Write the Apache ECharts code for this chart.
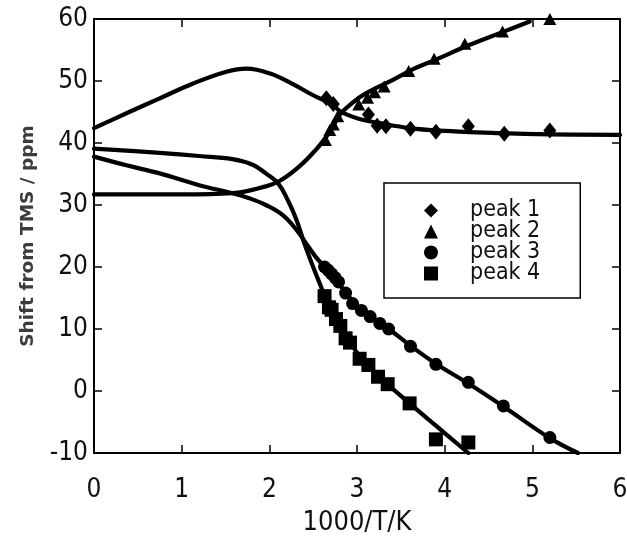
<!DOCTYPE html>
<html>
<head>
<meta charset="utf-8">
<script src="https://cdn.jsdelivr.net/npm/echarts@6/dist/echarts.min.js"></script>
<style>
html,body{margin:0;padding:0;background:#fff;}
#chart{width:627px;height:536px;}
</style>
</head>
<body>
<div id="chart"></div>
<script>
// ---- data ----
const xTicks = [0, 1, 2, 3, 4, 5, 6];
const yTicks = [-10, 0, 10, 20, 30, 40, 50, 60];
const seriesNames = ['peak 1', 'peak 2', 'peak 3', 'peak 4'];

const peak1X = [2.65, 2.73, 3.13, 3.23, 3.33, 3.61, 3.90, 4.27, 4.68, 5.20];
const peak1Y = [47.2, 46.3, 44.6, 42.8, 42.7, 42.3, 41.8, 42.7, 41.5, 42.0];

const peak2X = [2.64, 2.69, 2.73, 2.78, 3.02, 3.12, 3.20, 3.31, 3.59, 3.88, 4.23, 4.66, 5.20];
const peak2Y = [40.5, 42.1, 43.0, 44.3, 46.2, 47.3, 48.2, 49.1, 51.6, 53.6, 56.0, 58.0, 60.0];

const peak3X = [2.63, 2.67, 2.71, 2.75, 2.79, 2.87, 2.95, 3.05, 3.15, 3.26, 3.36, 3.61, 3.90, 4.27, 4.67, 5.20];
const peak3Y = [20.0, 19.5, 18.9, 18.3, 17.6, 15.8, 14.1, 13.0, 12.0, 10.9, 10.0, 7.2, 4.3, 1.4, -2.4, -7.5];

const peak4X = [2.63, 2.68, 2.71, 2.76, 2.81, 2.87, 2.92, 3.03, 3.13, 3.24, 3.35, 3.60, 3.90, 4.27];
const peak4Y = [15.3, 13.5, 13.1, 11.6, 10.5, 8.5, 7.8, 5.2, 4.2, 2.3, 1.1, -2.0, -7.8, -8.3];

// fitted curves
const fit1X = [0, 0.37, 0.75, 1.13, 1.51, 1.74, 2.01, 2.28, 2.50, 2.73, 2.80, 2.90, 3.05, 3.26, 3.60, 3.94, 4.63, 5.20, 6.0];
const fit1Y = [42.4, 44.8, 47.2, 49.6, 51.5, 52.0, 51.2, 49.4, 47.7, 46.1, 45.2, 44.5, 43.8, 43.2, 42.4, 42.0, 41.6, 41.4, 41.3];

const fit2X = [0, 1.0, 1.58, 1.96, 2.12, 2.34, 2.53, 2.65, 2.73, 2.80, 2.95, 3.10, 3.41, 3.64, 3.89, 4.28, 4.68, 4.97];
const fit2Y = [31.7, 31.7, 31.9, 33.0, 33.9, 36.2, 38.9, 41.0, 42.7, 44.5, 46.5, 48.0, 50.2, 51.9, 53.4, 55.8, 58.0, 59.6];

const fit3X = [0, 0.37, 0.75, 1.20, 1.58, 1.77, 1.96, 2.15, 2.31, 2.42, 2.52, 2.63, 2.75, 2.87, 3.0, 3.2, 3.4, 3.61, 3.90, 4.27, 4.67, 5.2, 5.52];
const fit3Y = [37.8, 36.4, 35.1, 33.2, 31.9, 31.1, 30.0, 28.4, 26.0, 23.8, 21.8, 20.0, 18.1, 15.9, 13.8, 11.6, 9.6, 7.3, 4.4, 1.2, -2.5, -7.6, -10];

const fit4X = [0, 0.75, 1.20, 1.58, 1.81, 1.96, 2.10, 2.21, 2.31, 2.40, 2.50, 2.59, 2.63, 2.76, 2.90, 3.03, 3.24, 3.60, 3.90, 4.27];
const fit4Y = [39.1, 38.4, 37.9, 37.4, 36.5, 35.1, 33.5, 30.8, 27.6, 23.8, 20.0, 16.8, 15.3, 11.8, 8.5, 5.6, 2.5, -2.0, -5.6, -10];

const xName = '1000/T/K';
const yName = 'Shift from TMS / ppm';

// ---- chart ----
const zip = (a, b) => a.map((v, i) => [v, b[i]]);
const FONT = "'Liberation Sans Narrow', 'DejaVu Sans Condensed', sans-serif";
const chart = echarts.init(document.getElementById('chart'), null, {renderer: 'canvas'});

const xMin = xTicks[0], xMax = xTicks[xTicks.length - 1];
const yMin = yTicks[0], yMax = yTicks[yTicks.length - 1];
const xInt = xTicks[1] - xTicks[0], yInt = yTicks[1] - yTicks[0];

const axisLine = {show: true, onZero: false, lineStyle: {color: '#000', width: 2}};
const axisTick = {show: true, inside: true, length: 8, lineStyle: {color: '#000', width: 1.5}};

function curve(x, y) {
  return {
    type: 'line', data: zip(x, y), smooth: 0.4,
    symbol: 'none', lineStyle: {color: '#000', width: 4.2, cap: 'round', join: 'round'}, z: 2, silent: true
  };
}
function marks(name, x, y, symbol, size) {
  return {
    name: name, type: 'scatter', data: zip(x, y), symbol: symbol, symbolSize: size,
    itemStyle: {color: '#000', opacity: 1}, z: 3, clip: false
  };
}

chart.setOption({
  animation: false,
  backgroundColor: '#fff',
  grid: {left: 94, right: 7, top: 19, bottom: 83, containLabel: false, outerBoundsMode: 'none'},
  xAxis: [{
    type: 'value', min: xMin, max: xMax, interval: xInt, position: 'bottom',
    name: xName, nameLocation: 'middle', nameGap: 56,
    nameTextStyle: {fontFamily: FONT, fontSize: 27, color: '#111'},
    axisLine: axisLine, axisTick: axisTick, splitLine: {show: false},
    axisLabel: {fontFamily: FONT, fontSize: 26, color: '#111', margin: 24}
  }, {
    type: 'value', min: xMin, max: xMax, interval: xInt, position: 'top',
    axisLine: axisLine, axisTick: axisTick, splitLine: {show: false}, axisLabel: {show: false}
  }],
  yAxis: [{
    type: 'value', min: yMin, max: yMax, interval: yInt, position: 'left',
    name: yName, nameLocation: 'middle', nameGap: 56, nameRotate: 90,
    nameTextStyle: {fontFamily: "'DejaVu Sans', sans-serif", fontSize: 18.5, fontWeight: 'bold', color: '#3c3c3c'},
    axisLine: axisLine, axisTick: axisTick, splitLine: {show: false},
    axisLabel: {fontFamily: FONT, fontSize: 26, color: '#111', margin: 6}
  }, {
    type: 'value', min: yMin, max: yMax, interval: yInt, position: 'right',
    axisLine: axisLine, axisTick: axisTick, splitLine: {show: false}, axisLabel: {show: false}
  }],
  legend: {
    data: seriesNames,
    orient: 'vertical', left: 384, top: 183,
    padding: [16, 40, 13, 40],
    itemWidth: 14, itemHeight: 14, itemGap: -2,
    borderColor: '#000', borderWidth: 1.5, borderRadius: 0,
    backgroundColor: '#fff',
    textStyle: {fontFamily: FONT, fontSize: 23, color: '#111', padding: [0, 0, 0, 27]}
  },
  series: [
    curve(fit1X, fit1Y),
    curve(fit2X, fit2Y),
    curve(fit3X, fit3Y),
    curve(fit4X, fit4Y),
    marks(seriesNames[0], peak1X, peak1Y, 'diamond', [13, 16]),
    marks(seriesNames[1], peak2X, peak2Y, 'triangle', [13, 12]),
    marks(seriesNames[2], peak3X, peak3Y, 'circle', 13),
    marks(seriesNames[3], peak4X, peak4Y, 'rect', 14)
  ]
});
</script>
</body>
</html>
